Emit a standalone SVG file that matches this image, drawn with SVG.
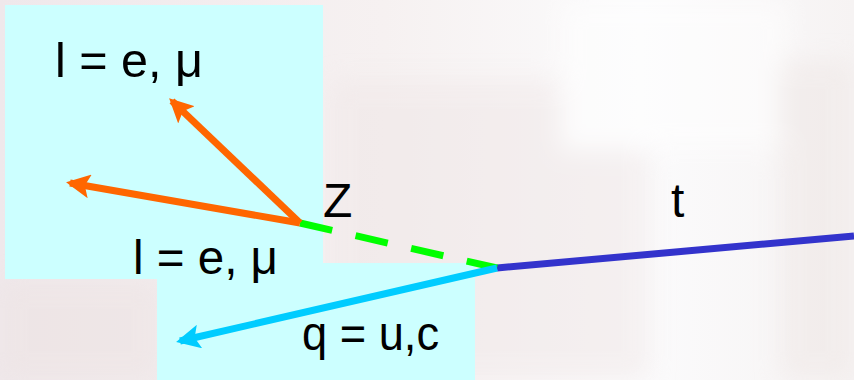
<svg xmlns="http://www.w3.org/2000/svg" width="854" height="380" viewBox="0 0 854 380">
  <defs>
    <linearGradient id="bg" x1="0" y1="0" x2="1" y2="0">
      <stop offset="0" stop-color="#EFE8EB"/>
      <stop offset="0.45" stop-color="#F6F1F1"/>
      <stop offset="0.75" stop-color="#FBFBFC"/>
      <stop offset="1" stop-color="#F6F3F3"/>
    </linearGradient>
    <filter id="blur" x="-20%" y="-20%" width="140%" height="140%">
      <feGaussianBlur stdDeviation="12"/>
    </filter>
    <marker id="headOrange" viewBox="0 0 24 24" refX="20" refY="12" markerWidth="24" markerHeight="24" markerUnits="userSpaceOnUse" orient="auto">
      <path d="M0,0 L24,12 L0,24 L5,12 Z" fill="#FF6600"/>
    </marker>
    <marker id="headCyan" viewBox="0 0 24 24" refX="20" refY="12" markerWidth="24" markerHeight="24" markerUnits="userSpaceOnUse" orient="auto">
      <path d="M0,0 L24,12 L0,24 L5,12 Z" fill="#00CCFF"/>
    </marker>
  </defs>
  <style>
    .box { fill: #CCFFFF; }
    .lbl { font-family: "Liberation Sans", "DejaVu Sans", sans-serif; font-size: 48px; fill: #000000; }
    .orange { stroke: #FF6600; stroke-width: 7; fill: none; }
    .cyan { stroke: #00CCFF; stroke-width: 7; fill: none; }
    .zline { stroke: #00FF00; stroke-width: 7; fill: none; stroke-dasharray: 33 24; }
    .tline { stroke: #3333CC; stroke-width: 7; fill: none; }
  </style>

  <!-- faded photo background -->
  <g id="background">
    <rect x="0" y="0" width="854" height="380" fill="url(#bg)"/>
    <g filter="url(#blur)" opacity="0.5">
      <rect x="330" y="80" width="320" height="300" fill="#EFE6E6"/>
      <rect x="560" y="0" width="230" height="150" fill="#FFFFFF"/>
      <rect x="0" y="280" width="160" height="100" fill="#EDE3E2"/>
      <rect x="780" y="60" width="74" height="320" fill="#EEE6E4"/>
    </g>
  </g>

  <g id="box-leptons">
    <rect class="box" x="5" y="5" width="318" height="274"/>
  </g>
  <g id="box-quark">
    <rect class="box" x="157" y="263" width="318" height="117"/>
  </g>

  <g id="connectors">
    <line id="top" class="tline" x1="497" y1="268" x2="854" y2="236"/>
    <line id="Z" class="zline" x1="300" y1="223" x2="497" y2="268"/>
    <line id="quark" class="cyan" x1="497" y1="268" x2="180" y2="341" marker-end="url(#headCyan)"/>
    <line id="lepton1" class="orange" x1="300" y1="223" x2="172" y2="101" marker-end="url(#headOrange)"/>
    <line id="lepton2" class="orange" x1="300" y1="223" x2="70" y2="183" marker-end="url(#headOrange)"/>
  </g>

  <g id="label-lepton-top">
    <text class="lbl" x="55" y="77" textLength="148" lengthAdjust="spacingAndGlyphs">l = e, μ</text>
  </g>
  <g id="label-lepton-bottom">
    <text class="lbl" x="133" y="274" textLength="145" lengthAdjust="spacingAndGlyphs">l = e, μ</text>
  </g>
  <g id="label-Z">
    <text class="lbl" x="323" y="217">Z</text>
  </g>
  <g id="label-t">
    <text class="lbl" x="671" y="217">t</text>
  </g>
  <g id="label-q">
    <text class="lbl" x="302" y="350" textLength="137" lengthAdjust="spacingAndGlyphs">q = u,c</text>
  </g>
</svg>
